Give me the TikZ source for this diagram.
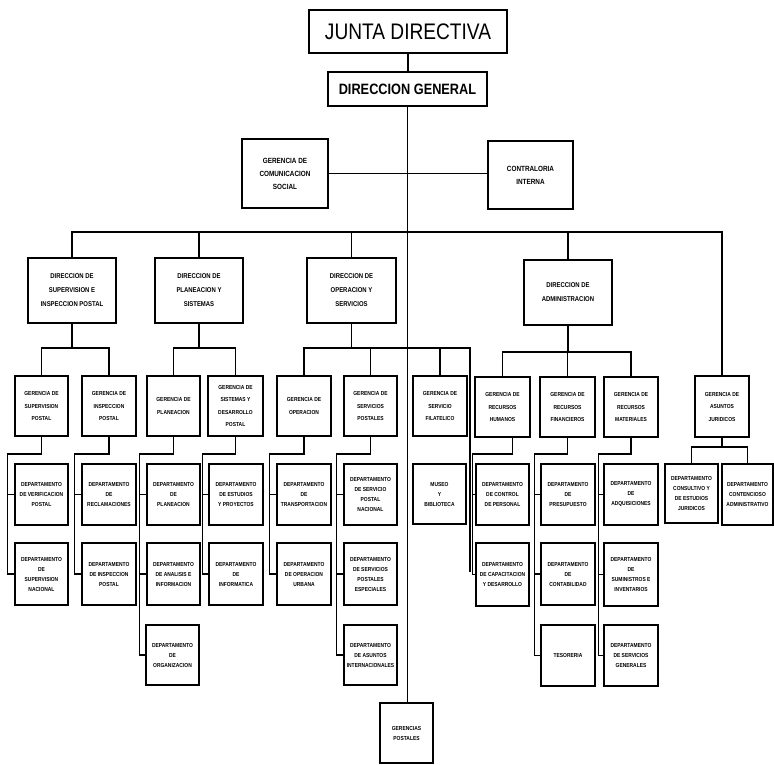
\documentclass[tikz,border=0pt]{standalone}
\usepackage{fontspec}
\setmainfont{Liberation Sans}[FakeStretch=0.85]
\tikzset{
  ln/.style={line width=1.5pt},
  sbox/.style={draw, line width=1.5pt, align=center, inner sep=0pt, font=\fontsize{5.8}{10}\selectfont\bfseries},
  gbox/.style={sbox, font=\fontsize{5.8}{12.5}\selectfont\bfseries},
  dbox/.style={sbox, font=\fontsize{7}{14}\selectfont\bfseries},
  cbox/.style={sbox, font=\fontsize{7.5}{13}\selectfont\bfseries},
  tbox/.style={sbox, font=\fontsize{22.5}{26}\selectfont},
  hbox/.style={sbox, font=\fontsize{15}{18}\selectfont\bfseries},
}
\newcommand\bx[7][sbox]{\node[#1, minimum width={#5-#3}, minimum height={#6-#4}] (#2) at ({(#3+#5)/2},{(#4+#6)/2}) {#7};}
\begin{document}
\begin{tikzpicture}[x=1pt,y=-1pt]
\fill[white] (0,0) rectangle (774,764);
\useasboundingbox (0,0) rectangle (774,764);
% top
\bx[tbox]{jd}{309}{10}{507}{53}{JUNTA DIRECTIVA}
\bx[hbox]{dg}{328}{72}{487}{106}{DIRECCION GENERAL}
\bx[cbox]{gcs}{242}{139}{328}{208}{GERENCIA DE\\COMUNICACION\\SOCIAL}
\bx[cbox]{ci}{488}{141}{573}{209}{CONTRALORIA\\INTERNA}
% direcciones
\bx[dbox]{dsup}{28}{258}{116}{323}{DIRECCION DE\\SUPERVISION E\\INSPECCION POSTAL}
\bx[dbox]{dpla}{155}{258}{243}{323}{DIRECCION DE\\PLANEACION Y\\SISTEMAS}
\bx[dbox]{dope}{307}{258}{396}{323}{DIRECCION DE\\OPERACION Y\\SERVICIOS}
\bx[dbox]{dadm}{524}{260}{612}{325}{DIRECCION DE\\ADMINISTRACION}
% gerencias
\bx[gbox]{gsup}{15}{376}{68}{436}{GERENCIA DE\\SUPERVISION\\POSTAL}
\bx[gbox]{ginsp}{82}{376}{136}{436}{GERENCIA DE\\INSPECCION\\POSTAL}
\bx[gbox]{gpla}{147}{376}{200}{436}{GERENCIA DE\\PLANEACION}
\bx[gbox]{gsis}{208}{376}{263}{436}{GERENCIA DE\\SISTEMAS Y\\DESARROLLO\\POSTAL}
\bx[gbox]{gope}{277}{376}{331}{436}{GERENCIA DE\\OPERACION}
\bx[gbox]{gser}{344}{376}{397}{436}{GERENCIA DE\\SERVICIOS\\POSTALES}
\bx[gbox]{gfil}{413}{376}{467}{436}{GERENCIA DE\\SERVICIO\\FILATELICO}
\bx[gbox]{grh}{475}{377}{530}{437}{GERENCIA DE\\RECURSOS\\HUMANOS}
\bx[gbox]{gfin}{540}{377}{595}{437}{GERENCIA DE\\RECURSOS\\FINANCIEROS}
\bx[gbox]{gmat}{604}{377}{658}{437}{GERENCIA DE\\RECURSOS\\MATERIALES}
\bx[gbox]{gjur}{695}{376}{749}{437}{GERENCIA DE\\ASUNTOS\\JURIDICOS}
% departamentos
\bx{sup1}{15}{464}{68}{525}{DEPARTAMENTO\\DE VERIFICACION\\POSTAL}
\bx{sup2}{15}{543}{68}{605}{DEPARTAMENTO\\DE\\SUPERVISION\\NACIONAL}
\bx{insp1}{82}{464}{136}{525}{DEPARTAMENTO\\DE\\RECLAMACIONES}
\bx{insp2}{82}{543}{136}{605}{DEPARTAMENTO\\DE INSPECCION\\POSTAL}
\bx{pla1}{147}{464}{200}{525}{DEPARTAMENTO\\DE\\PLANEACION}
\bx{pla2}{147}{543}{200}{605}{DEPARTAMENTO\\DE ANALISIS E\\INFORMACION}
\bx{pla3}{146}{625}{199}{685}{DEPARTAMENTO\\DE\\ORGANIZACION}
\bx{sis1}{209}{464}{263}{525}{DEPARTAMENTO\\DE ESTUDIOS\\Y PROYECTOS}
\bx{sis2}{209}{543}{263}{605}{DEPARTAMENTO\\DE\\INFORMATICA}
\bx{ope1}{277}{464}{331}{525}{DEPARTAMENTO\\DE\\TRANSPORTACION}
\bx{ope2}{277}{543}{331}{605}{DEPARTAMENTO\\DE OPERACION\\URBANA}
\bx{ser1}{344}{464}{397}{525}{DEPARTAMENTO\\DE SERVICIO\\POSTAL\\NACIONAL}
\bx{ser2}{344}{543}{397}{605}{DEPARTAMENTO\\DE SERVICIOS\\POSTALES\\ESPECIALES}
\bx{ser3}{344}{625}{397}{685}{DEPARTAMENTO\\DE ASUNTOS\\INTERNACIONALES}
\bx{mus}{413}{464}{466}{524}{MUSEO\\Y\\BIBLIOTECA}
\bx{rh1}{476}{464}{529}{525}{DEPARTAMENTO\\DE CONTROL\\DE PERSONAL}
\bx{rh2}{476}{543}{529}{606}{DEPARTAMENTO\\DE CAPACITACION\\Y DESARROLLO}
\bx{fin1}{541}{464}{595}{525}{DEPARTAMENTO\\DE\\PRESUPUESTO}
\bx{fin2}{541}{543}{595}{605}{DEPARTAMENTO\\DE\\CONTABILIDAD}
\bx{fin3}{541}{625}{595}{686}{TESORERIA}
\bx{mat1}{604}{464}{658}{525}{DEPARTAMENTO\\DE\\ADQUISICIONES}
\bx{mat2}{604}{543}{658}{606}{DEPARTAMENTO\\DE\\SUMINISTROS E\\INVENTARIOS}
\bx{mat3}{604}{625}{658}{686}{DEPARTAMENTO\\DE SERVICIOS\\GENERALES}
\bx{cons}{665}{464}{718}{523}{DEPARTAMENTO\\CONSULTIVO Y\\DE ESTUDIOS\\JURIDICOS}
\bx{cont}{722}{464}{773}{525}{DEPARTAMENTO\\CONTENCIOSO\\ADMINISTRATIVO}
\bx{gp}{380}{703}{433}{763}{GERENCIAS\\POSTALES}
% coordinates
\coordinate (bus) at (0,232);
\coordinate (gb) at (0,348);
\coordinate (ab) at (0,352);
\coordinate (jb) at (0,447);
\coordinate (db) at (0,454);
\coordinate (xo) at (470,348);
\coordinate (xoe) at (470,572);
% top connectors
\draw[ln] (jd.south) -- (jd.south |- dg.north);
\draw[ln] (dg.south) -- (dg.south |- gp.north);
\draw[ln] (gcs.east) -- (gcs.east -| ci.west);
% main bus
\draw[ln] (dsup.north) |- (bus -| gjur.north) -- (gjur.north);
\draw[ln] (dpla.north) -- (dpla.north |- bus);
\draw[ln] (dope.north) -- (dope.north |- bus);
\draw[ln] (dadm.north) -- (dadm.north |- bus);
% gerencia buses
\draw[ln] (dsup.south) -- (dsup.south |- gb);
\draw[ln] (gsup.north) |- (gb -| ginsp.north) -- (ginsp.north);
\draw[ln] (dpla.south) -- (dpla.south |- gb);
\draw[ln] (gpla.north) |- (gb -| gsis.north) -- (gsis.north);
\draw[ln] (dope.south) -- (dope.south |- gb);
\draw[ln] (gope.north) |- (xo) -- (xoe);
\draw[ln] (gser.north) -- (gser.north |- gb);
\draw[ln] (gfil.north) -- (gfil.north |- gb);
\draw[ln] (dadm.south) -- (dadm.south |- ab);
\draw[ln] (grh.north) |- (ab -| gmat.north) -- (gmat.north);
\draw[ln] (gfin.north) -- (gfin.north |- ab);
% juridicos
\draw[ln] (gjur.south) -- (gjur.south |- jb);
\draw[ln] (cons.north) |- (jb -| cont.north) -- (cont.north);
% department brackets
\draw[ln] (gsup.south) -- (gsup.south |- db) -| ([xshift=-7pt]sup2.west) -- (sup2.west);
\draw[ln] ([xshift=-7pt]sup1.west) -- (sup1.west);
\draw[ln] (ginsp.south) -- (ginsp.south |- db) -| ([xshift=-7pt]insp2.west) -- (insp2.west);
\draw[ln] ([xshift=-7pt]insp1.west) -- (insp1.west);
\draw[ln] (gpla.south) -- (gpla.south |- db) -| ([xshift=-6pt]pla3.west) -- (pla3.west);
\draw[ln] ([xshift=-7pt]pla1.west) -- (pla1.west);
\draw[ln] ([xshift=-7pt]pla2.west) -- (pla2.west);
\draw[ln] (gsis.south) -- (gsis.south |- db) -| ([xshift=-6pt]sis2.west) -- (sis2.west);
\draw[ln] ([xshift=-6pt]sis1.west) -- (sis1.west);
\draw[ln] (gope.south) -- (gope.south |- db) -| ([xshift=-7pt]ope2.west) -- (ope2.west);
\draw[ln] ([xshift=-7pt]ope1.west) -- (ope1.west);
\draw[ln] (gser.south) -- (gser.south |- db) -| ([xshift=-7pt]ser3.west) -- (ser3.west);
\draw[ln] ([xshift=-7pt]ser1.west) -- (ser1.west);
\draw[ln] ([xshift=-7pt]ser2.west) -- (ser2.west);
\draw[ln] ([xshift=10pt]grh.south) -- ++(0,16.4) -| ([xshift=-3pt]rh2.west) -- (rh2.west);
\draw[ln] ([xshift=-3pt]rh1.west) -- (rh1.west);
\draw[ln] (gfin.south) -- (gfin.south |- db) -| ([xshift=-6pt]fin3.west) -- (fin3.west);
\draw[ln] ([xshift=-6pt]fin1.west) -- (fin1.west);
\draw[ln] ([xshift=-6pt]fin2.west) -- (fin2.west);
\draw[ln] (gmat.south) -- (gmat.south |- db) -| ([xshift=-5pt]mat3.west) -- (mat3.west);
\draw[ln] ([xshift=-5pt]mat1.west) -- (mat1.west);
\draw[ln] ([xshift=-5pt]mat2.west) -- (mat2.west);
\end{tikzpicture}
\end{document}
